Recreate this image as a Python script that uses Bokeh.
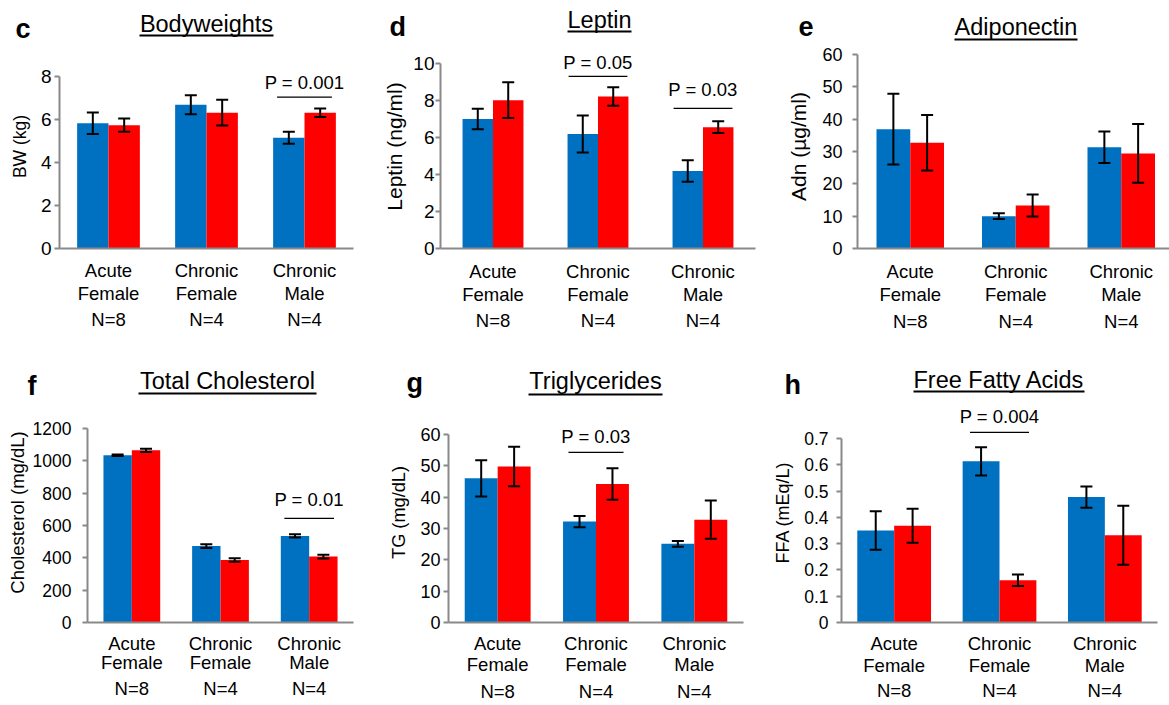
import numpy as np
from bokeh.plotting import figure
from bokeh.layouts import column, row
from bokeh.models import ColumnDataSource, Whisker, TeeHead, FixedTicker, LinearAxis, Range1d
from bokeh.core.properties import value
from bokeh.embed import file_html
from bokeh.resources import INLINE

# ---------------- data ----------------
groups = ["Acute\nFemale", "Chronic\nFemale", "Chronic\nMale"]
n_labels = ["N=8", "N=4", "N=4"]

bw_blue = [5.82, 6.68, 5.15]
bw_blue_err = [0.50, 0.44, 0.28]
bw_red = [5.73, 6.31, 6.31]
bw_red_err = [0.31, 0.60, 0.20]
bw_ticks = [0, 2, 4, 6, 8]
bw_tick_labels = ["0", "2", "4", "6", "8"]
bw_p_group = [2]
bw_p_line = [7.03]
bw_p_text_y = [7.7]
bw_p_text = ["P = 0.001"]

leptin_blue = [7.0, 6.19, 4.19]
leptin_blue_err = [0.55, 1.0, 0.58]
leptin_red = [8.02, 8.22, 6.56]
leptin_red_err = [0.97, 0.5, 0.32]
leptin_ticks = [0, 2, 4, 6, 8, 10]
leptin_tick_labels = ["0", "2", "4", "6", "8", "10"]
leptin_p_group = [1, 2]
leptin_p_line = [9.3, 7.57]
leptin_p_text_y = [10.05, 8.6]
leptin_p_text = ["P = 0.05", "P = 0.03"]

adn_blue = [36.9, 10.0, 31.3]
adn_blue_err = [10.9, 0.9, 4.9]
adn_red = [32.7, 13.3, 29.4]
adn_red_err = [8.6, 3.4, 9.1]
adn_ticks = [0, 10, 20, 30, 40, 50, 60]
adn_tick_labels = ["0", "10", "20", "30", "40", "50", "60"]
adn_p_group = []
adn_p_line = []
adn_p_text_y = []
adn_p_text = []

chol_blue = [1033, 472, 535]
chol_blue_err = [5, 12, 10]
chol_red = [1064, 386, 407]
chol_red_err = [10, 11, 11]
chol_ticks = [0, 200, 400, 600, 800, 1000, 1200]
chol_tick_labels = ["0", "200", "400", "600", "800", "1000", "1200"]
chol_p_group = [2]
chol_p_line = [643]
chol_p_text_y = [759]
chol_p_text = ["P = 0.01"]

tg_blue = [46.0, 32.2, 25.1]
tg_blue_err = [5.8, 1.8, 0.9]
tg_red = [49.8, 44.2, 32.8]
tg_red_err = [6.3, 5.0, 6.1]
tg_ticks = [0, 10, 20, 30, 40, 50, 60]
tg_tick_labels = ["0", "10", "20", "30", "40", "50", "60"]
tg_p_group = [1]
tg_p_line = [54.3]
tg_p_text_y = [59.4]
tg_p_text = ["P = 0.03"]

ffa_blue = [0.350, 0.613, 0.477]
ffa_blue_err = [0.073, 0.054, 0.040]
ffa_red = [0.368, 0.161, 0.332]
ffa_red_err = [0.065, 0.022, 0.112]
ffa_ticks = [0, 0.1, 0.2, 0.3, 0.4, 0.5, 0.6, 0.7]
ffa_tick_labels = ["0", "0.1", "0.2", "0.3", "0.4", "0.5", "0.6", "0.7"]
ffa_p_group = [1]
ffa_p_line = [0.723]
ffa_p_text_y = [0.784]
ffa_p_text = ["P = 0.004"]

panel_letters = ["c", "d", "e", "f", "g", "h"]
panel_titles = ["Bodyweights", "Leptin", "Adiponectin", "Total Cholesterol", "Triglycerides", "Free Fatty Acids"]

# ---------------- styling / layout ----------------
FONT = "Liberation Sans"
GREY = "#898989"
BLUE = "#0070C0"
RED = "#FF0000"
PAGE_W = 1169
HEAD_TOP = (0, 44)      # (top, height) of header strip, top row
HEAD_BOT = (345, 57)    # bottom row

panels = [
    dict(ylabel="BW (kg)",
         blue=bw_blue, blue_err=bw_blue_err, red=bw_red, red_err=bw_red_err,
         ticks=bw_ticks, tick_labels=bw_tick_labels,
         pg=bw_p_group, pl=bw_p_line, pt=bw_p_text_y, ptext=bw_p_text,
         ox=0, oy=44, W=380, H=301, fl=59, fr=353, fb=249, ppx=98.0, ttv=8, tty=76, bw=0.32,
         tick_fs="19px", tick_so=3, ylab_fs="17.5px", ylab_so=8,
         xlab_so=11, xlab_lh=1.1, n_so=2,
         tcx=206, tcy=23, uly=35, ulw=134, lx=15, ly=28.5),
    dict(ylabel="Leptin (ng/ml)",
         blue=leptin_blue, blue_err=leptin_blue_err, red=leptin_red, red_err=leptin_red_err,
         ticks=leptin_ticks, tick_labels=leptin_tick_labels,
         pg=leptin_p_group, pl=leptin_p_line, pt=leptin_p_text_y, ptext=leptin_p_text,
         ox=380, oy=44, W=390, H=301, fl=439, fr=755, fb=248, ppx=105.33, ttv=10, tty=63, bw=0.29,
         tick_fs="19px", tick_so=1, ylab_fs="21px", ylab_so=4,
         xlab_so=12, xlab_lh=1.1, n_so=2,
         tcx=599, tcy=19.5, uly=31, ulw=64, lx=389, ly=26),
    dict(ylabel="Adn (\u00b5g/ml)",
         blue=adn_blue, blue_err=adn_blue_err, red=adn_red, red_err=adn_red_err,
         ticks=adn_ticks, tick_labels=adn_tick_labels,
         pg=adn_p_group, pl=adn_p_line, pt=adn_p_text_y, ptext=adn_p_text,
         ox=770, oy=44, W=399, H=301, fl=857, fr=1169, fb=250, ppx=105.5, ttv=60, tty=54, bw=0.32,
         tick_fs="18px", tick_so=10, ylab_fs="21px", ylab_so=9,
         xlab_so=12, xlab_lh=1.1, n_so=3,
         tcx=1015.5, tcy=26.5, uly=39, ulw=123, lx=798, ly=26),
    dict(ylabel="Cholesterol (mg/dL)",
         blue=chol_blue, blue_err=chol_blue_err, red=chol_red, red_err=chol_red_err,
         ticks=chol_ticks, tick_labels=chol_tick_labels,
         pg=chol_p_group, pl=chol_p_line, pt=chol_p_text_y, ptext=chol_p_text,
         ox=0, oy=402, W=380, H=303, fl=87, fr=353, fb=624, ppx=88.67, ttv=1200, tty=428, bw=0.32,
         tick_fs="17.5px", tick_so=11, ylab_fs="18.5px", ylab_so=2,
         xlab_so=10, xlab_lh=0.95, n_so=1,
         tcx=227, tcy=380.5, uly=393, ulw=178, lx=27, ly=385),
    dict(ylabel="TG (mg/dL)",
         blue=tg_blue, blue_err=tg_blue_err, red=tg_red, red_err=tg_red_err,
         ticks=tg_ticks, tick_labels=tg_tick_labels,
         pg=tg_p_group, pl=tg_p_line, pt=tg_p_text_y, ptext=tg_p_text,
         ox=380, oy=402, W=390, H=303, fl=448, fr=743, fb=622, ppx=98.33, ttv=60, tty=434, bw=0.335,
         tick_fs="18px", tick_so=3, ylab_fs="18.2px", ylab_so=8,
         xlab_so=10, xlab_lh=1.0, n_so=3,
         tcx=595, tcy=380.5, uly=394, ulw=134, lx=406, ly=382),
    dict(ylabel="FFA (mEq/L)",
         blue=ffa_blue, blue_err=ffa_blue_err, red=ffa_red, red_err=ffa_red_err,
         ticks=ffa_ticks, tick_labels=ffa_tick_labels,
         pg=ffa_p_group, pl=ffa_p_line, pt=ffa_p_text_y, ptext=ffa_p_text,
         ox=770, oy=402, W=399, H=303, fl=840, fr=1157, fb=622, ppx=105.67, ttv=0.7, tty=438, bw=0.35,
         tick_fs="17.5px", tick_so=8, ylab_fs="18px", ylab_so=8,
         xlab_so=10, xlab_lh=1.05, n_so=1,
         tcx=998.5, tcy=379.5, uly=391, ulw=171, lx=784, ly=384),
]


def make_panel(s):
    ppy = (s["fb"] - s["tty"]) / s["ttv"]
    xmax = -0.5 + (s["fr"] - s["fl"]) / s["ppx"]
    ymax = (s["fb"] - s["oy"]) / ppy

    p = figure(width=s["W"], height=s["H"], output_backend="svg", toolbar_location=None,
               x_range=Range1d(-0.5, xmax), y_range=Range1d(0, ymax),
               min_border_left=s["fl"] - s["ox"],
               min_border_right=s["ox"] + s["W"] - s["fr"],
               min_border_top=0,
               min_border_bottom=s["oy"] + s["H"] - s["fb"],
               outline_line_color=None, background_fill_color="white",
               border_fill_color="white")
    p.xgrid.visible = False
    p.ygrid.visible = False

    # y axis
    ya = p.yaxis[0]
    ya.ticker = FixedTicker(ticks=s["ticks"])
    ya.major_label_overrides = {t: l for t, l in zip(s["ticks"], s["tick_labels"])}
    ya.bounds = (0, s["ticks"][-1])
    ya.axis_line_color = GREY
    ya.axis_line_width = 2
    ya.major_tick_line_color = GREY
    ya.major_tick_line_width = 2
    ya.major_tick_in = 0
    ya.major_tick_out = 5
    ya.minor_tick_line_color = None
    ya.major_label_text_font = FONT
    ya.major_label_text_font_size = s["tick_fs"]
    ya.major_label_text_color = "black"
    ya.major_label_standoff = s["tick_so"]
    ya.axis_label = s["ylabel"]
    ya.axis_label_text_font = FONT
    ya.axis_label_text_font_style = "normal"
    ya.axis_label_text_font_size = s["ylab_fs"]
    ya.axis_label_text_color = "black"
    ya.axis_label_standoff = s["ylab_so"]

    # x axis (group names)
    cat_x = list(range(len(groups)))
    xa = p.xaxis[0]
    xa.ticker = FixedTicker(ticks=cat_x)
    xa.major_label_overrides = {i: g for i, g in zip(cat_x, groups)}
    xa.axis_line_color = GREY
    xa.axis_line_width = 2
    xa.major_tick_line_color = None
    xa.minor_tick_line_color = None
    xa.major_tick_in = 0
    xa.major_tick_out = 0
    xa.major_label_text_font = FONT
    xa.major_label_text_font_size = "18.5px"
    xa.major_label_text_color = "black"
    xa.major_label_text_line_height = s["xlab_lh"]
    xa.major_label_standoff = s["xlab_so"]

    na = LinearAxis(ticker=FixedTicker(ticks=cat_x),
                    major_label_overrides={i: n for i, n in zip(cat_x, n_labels)},
                    axis_line_color=None, major_tick_line_color=None, minor_tick_line_color=None,
                    major_tick_in=0, major_tick_out=0,
                    major_label_text_font=FONT, major_label_text_font_size="18.5px",
                    major_label_text_color="black", major_label_standoff=s["n_so"])
    p.add_layout(na, "below")

    # bars + error bars
    bw = s["bw"]
    xc = np.arange(len(groups), dtype=float)
    for vals, errs, color, off in ((s["blue"], s["blue_err"], BLUE, -bw / 2),
                                   (s["red"], s["red_err"], RED, bw / 2)):
        xs = xc + off
        p.vbar(x=xs, top=vals, width=bw, bottom=0, fill_color=color, line_color=None)
        src = ColumnDataSource(dict(base=xs, upper=np.add(vals, errs), lower=np.subtract(vals, errs)))
        wk = Whisker(source=src, base="base", upper="upper", lower="lower",
                     line_color="black", line_width=2, level="overlay",
                     upper_head=TeeHead(size=12, line_color="black", line_width=2),
                     lower_head=TeeHead(size=12, line_color="black", line_width=2))
        p.add_layout(wk)

    # p-value annotations
    if s["pg"]:
        g = np.array(s["pg"], dtype=float)
        p.segment(x0=g - 0.28, x1=g + 0.28, y0=s["pl"], y1=s["pl"], line_color="black", line_width=1.3)
        p.text(x=g, y=s["pt"], text=s["ptext"], text_align="center", text_baseline="middle",
               text_font=value(FONT), text_font_size="18.5px", text_color="black")
    return p


def make_header(top, height, specs, letters, titles):
    h = figure(width=PAGE_W, height=height, output_backend="svg", toolbar_location=None,
               x_range=Range1d(0, PAGE_W), y_range=Range1d(top + height, top),
               min_border=0, outline_line_color=None, background_fill_color="white",
               border_fill_color="white", x_axis_location=None, y_axis_location=None)
    h.xgrid.visible = False
    h.ygrid.visible = False
    h.text(x=[s["tcx"] for s in specs], y=[s["tcy"] for s in specs], text=titles,
           text_align="center", text_baseline="middle", text_font=value(FONT),
           text_font_size="23.5px", text_color="black")
    h.segment(x0=[s["tcx"] - s["ulw"] / 2 for s in specs], x1=[s["tcx"] + s["ulw"] / 2 for s in specs],
              y0=[s["uly"] for s in specs], y1=[s["uly"] for s in specs],
              line_color="black", line_width=2)
    h.text(x=[s["lx"] for s in specs], y=[s["ly"] for s in specs], text=letters,
           text_align="left", text_baseline="middle", text_font=value(FONT),
           text_font_style="bold", text_font_size="27px", text_color="black")
    return h


figs = [make_panel(s) for s in panels]
head_top = make_header(HEAD_TOP[0], HEAD_TOP[1], panels[:3], panel_letters[:3], panel_titles[:3])
head_bot = make_header(HEAD_BOT[0], HEAD_BOT[1], panels[3:], panel_letters[3:], panel_titles[3:])

layout = column(head_top,
                row(figs[0], figs[1], figs[2], spacing=0),
                head_bot,
                row(figs[3], figs[4], figs[5], spacing=0),
                spacing=0)

with open("out.html", "w") as f:
    f.write(file_html(layout, INLINE))
